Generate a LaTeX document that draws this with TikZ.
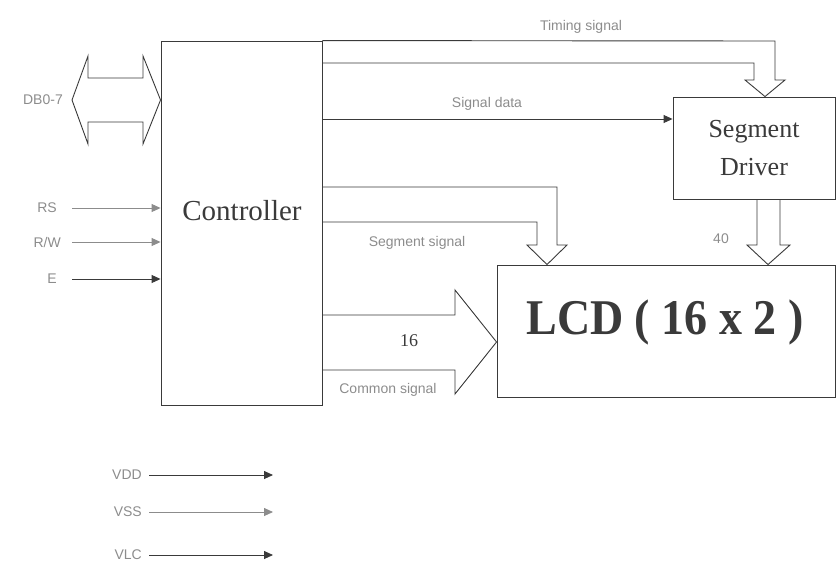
\documentclass[tikz,border=0pt]{standalone}
\usepackage{fontspec}
\setmainfont{Liberation Serif}
\newfontfamily\labelfont{Liberation Sans}
\usetikzlibrary{arrows.meta,positioning,calc}
\definecolor{ink}{HTML}{3A3A3A}
\definecolor{inkgray}{HTML}{8C8C8C}
\tikzset{
  block/.style={draw=ink,line width=0.9pt,inner sep=0pt},
  bus/.style={draw=ink,line width=0.9pt,line join=miter},
  sigarr/.style={-{Triangle[length=9pt,width=8pt]},line width=0.9pt,color=ink},
  faintarr/.style={-{Triangle[length=9pt,width=8pt]},line width=0.9pt,color=inkgray},
  tag/.style={font=\labelfont\fontsize{14}{14}\selectfont,text=inkgray,inner sep=1pt}
}
\begin{document}
\begin{tikzpicture}[x=1pt,y=-1pt]
  \useasboundingbox (0,0) rectangle (837,565);

  \node[block,minimum width=161pt,minimum height=364pt] (ctrl) at (241.5,223) {};
  \node[font=\fontsize{29}{29}\selectfont,text=ink] (ctrltxt) at (242,211) {Controller};
  \node[block,minimum width=162pt,minimum height=102pt,align=center,
        font=\fontsize{26}{38}\selectfont,text=ink] (seg) at (754,148) {Segment\\Driver};
  \node[block,minimum width=338pt,minimum height=132pt] (lcd) at (666,331) {};
  \node[font=\bfseries\fontsize{50}{50}\selectfont,text=ink,xscale=0.92] (lcdtxt) at (665,322) {LCD ( 16 x 2 )};

  % data bus
  \draw[bus] (ctrl.west |- 0,100) -- (143,144) -- (143,122) -- (88,122) -- (88,144) -- (72,100)
    -- (88,56) -- (88,78) -- (143,78) -- (143,56) -- cycle;
  \node[tag,anchor=east] (db) at (64,100) {DB0-7};

  % control inputs
  \node[tag,anchor=east] (rs) at (58,208) {RS};
  \node[tag,anchor=east] (rw) at (62,242) {R/W};
  \node[tag,anchor=east] (en) at (58,279) {E};
  \draw[faintarr] ([xshift=14pt]rs.east) -- (ctrl.west |- rs);
  \draw[faintarr] ([xshift=10pt]rw.east) -- (ctrl.west |- rw);
  \draw[sigarr] ([xshift=14pt]en.east) -- (ctrl.west |- en);

  % timing signal
  \draw[bus] (ctrl.north east) -- (775,41) -- (775,80) -- (785,80) -- (765,0 |- seg.north)
    -- (745,80) -- (754,80) -- (754,63) -- (ctrl.east |- 0,63);
  \node[tag] (timing) at (581,27) {Timing signal};

  % signal data
  \draw[sigarr] (ctrl.east |- 0,119) -- (seg.west |- 0,119);
  \node[tag] (sdata) at (487,104) {Signal data};

  % segment signal
  \draw[bus] (ctrl.east |- 0,187) -- (557,187) -- (557,245) -- (567,245) -- (547,0 |- lcd.north)
    -- (527,245) -- (537,245) -- (537,222) -- (ctrl.east |- 0,222);
  \node[tag] (segsig) at (417,243) {Segment signal};

  % segment driver to lcd
  \draw[bus] (757,0 |- seg.south) -- (757,245) -- (747,245) -- (768,0 |- lcd.north)
    -- (790,245) -- (780,245) -- (780,0 |- seg.south);
  \node[tag] (forty) at (721,239) {40};

  % common signal
  \draw[bus] (ctrl.east |- 0,315) -- (455,315) -- (455,290) -- (lcd.west |- 0,342)
    -- (455,394) -- (455,370) -- (ctrl.east |- 0,370);
  \node[font=\fontsize{18}{18}\selectfont,text=ink] (sixteen) at (409,341) {16};
  \node[tag] (common) at (388,390) {Common signal};

  % supplies
  \node[tag,anchor=east] (vdd) at (143,475) {VDD};
  \node[tag,anchor=east] (vss) at (143,512) {VSS};
  \node[tag,anchor=east] (vlc) at (143,555) {VLC};
  \draw[sigarr] ([xshift=6pt]vdd.east) -- (273,0 |- vdd);
  \draw[faintarr] ([xshift=6pt]vss.east) -- (273,0 |- vss);
  \draw[sigarr] ([xshift=6pt]vlc.east) -- (273,0 |- vlc);
\end{tikzpicture}
\end{document}
